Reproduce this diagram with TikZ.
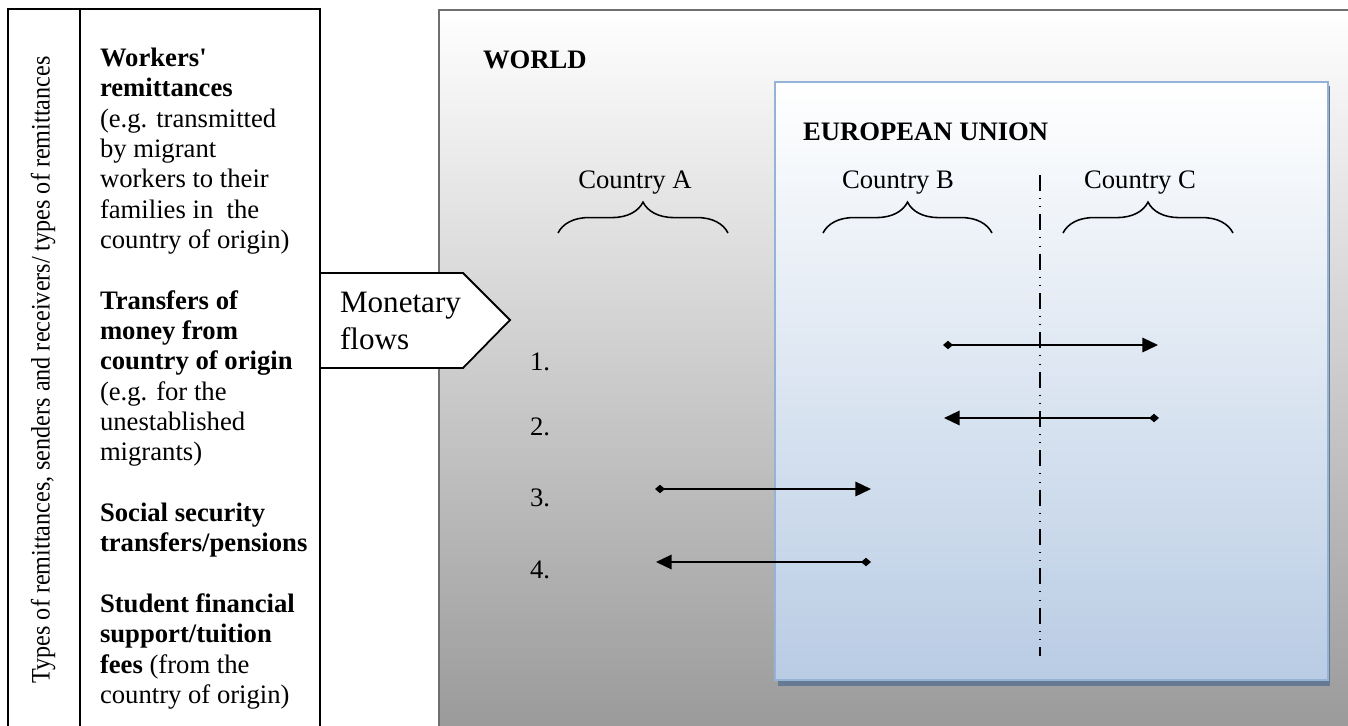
\documentclass[tikz,border=0pt]{standalone}
\usepackage{fontspec}
\setmainfont{Liberation Serif}
\usetikzlibrary{arrows.meta,decorations.pathreplacing}

\definecolor{worldline}{HTML}{6F6F6F}
\definecolor{worldlow}{HTML}{9A9A9A}
\definecolor{euline}{HTML}{95B3D7}
\definecolor{eulow}{HTML}{B9CCE4}
\definecolor{eushade}{HTML}{667A94}

\tikzset{every node/.style={inner sep=0pt, outer sep=0pt}}
\tikzset{lbl/.style={font=\fontsize{12}{13.65}\selectfont}}
\tikzset{head/.style={font=\fontsize{12}{13.65}\selectfont\bfseries}}
\tikzset{flow/.style={draw=black, line width=0.75pt,
  {Diamond[length=4.5pt,width=3.8pt]}-{Triangle[length=7pt,width=6.5pt]}}}
\tikzset{bracetop/.style={draw=black, line width=0.7pt, decorate,
  decoration={brace, amplitude=13.9pt}}}
\tikzset{divider/.style={draw=black, line width=0.65pt,
  dash pattern=on 7.2pt off 3.2pt on 0.45pt off 3.2pt on 0.45pt off 3.2pt}}

\begin{document}
\begin{tikzpicture}[x=0.45pt, y=-0.45pt]
  \useasboundingbox (0,0) rectangle (1348,725);

  % world and EU boxes
  \draw[draw=worldline, line width=1.1pt, top color=white, bottom color=worldlow]
    (439,10) rectangle (1352,729);
  \fill[eushade] (778,86) rectangle (1330,686);
  \draw[draw=euline, line width=0.9pt, top color=white, bottom color=eulow]
    (775,82) rectangle (1328,680);

  \node (world) [head, anchor=base west] at (483,68) {WORLD};
  \node (eu) [head, anchor=base west] at (803,140) {EUROPEAN UNION};

  % left column
  \draw[line width=0.8pt] (8,727) -- (8,9) -- (320,9) -- (320,727);
  \draw[line width=0.8pt] (80,9) -- (80,727);
  \node (axis) [lbl, rotate=90] at (43,370)
    {\scalebox{0.906}[1]{Types of remittances, senders and receivers/ types of remittances}};
  \node (types) [lbl, align=left, anchor=north west] at (100,48)
    {\textbf{Workers\textquotesingle}\\
     \textbf{remittances}\\
     (e.g. transmitted\\
     by migrant\\
     workers to their\\
     families in\ \ the\\
     country of origin)\\[13.65pt]
     \textbf{Transfers of}\\
     \textbf{money from}\\
     \textbf{country of origin}\\
     (e.g. for the\\
     unestablished\\
     migrants)\\[13.65pt]
     \textbf{Social security}\\
     \textbf{transfers/pensions}\\[13.65pt]
     \textbf{Student financial}\\
     \textbf{support/tuition}\\
     \textbf{fees} (from the\\
     country of origin)};

  % monetary flows
  \draw[line width=0.8pt, fill=white]
    (320,273) -- (463,273) -- (510,320) -- (463,368) -- (320,368) -- cycle;
  \node (money) [align=left, anchor=north west, font=\fontsize{14}{16.65}\selectfont]
    at (340,292) {Monetary\\flows};

  % countries
  \node (ctyA) [lbl, anchor=base] at (635,188) {Country A};
  \node (ctyB) [lbl, anchor=base] at (898,188) {Country B};
  \node (ctyC) [lbl, anchor=base] at (1140,188) {Country C};
  \draw[bracetop] (558,233) -- (728,233);
  \draw[bracetop] (823,233) -- (992,233);
  \draw[bracetop] (1063,233) -- (1233,233);

  \coordinate (divtop) at (1040,175);
  \coordinate (divbot) at (1040,656);
  \path (divtop) edge[divider] (divbot);

  % flows
  \node (n1) [lbl, anchor=west] at (530,362) {1.};
  \node (n2) [lbl, anchor=west] at (530,427) {2.};
  \node (n3) [lbl, anchor=west] at (530,498) {3.};
  \node (n4) [lbl, anchor=west] at (530,570) {4.};

  \coordinate (a1s) at (943,345);
  \coordinate (a1e) at (1158,345);
  \coordinate (a2s) at (1159,418);
  \coordinate (a2e) at (944,418);
  \coordinate (a3s) at (655,489);
  \coordinate (a3e) at (871,489);
  \coordinate (a4s) at (871,562);
  \coordinate (a4e) at (656,562);

  \path (a1s) edge[flow] (a1e);
  \path (a2s) edge[flow] (a2e);
  \path (a3s) edge[flow] (a3e);
  \path (a4s) edge[flow] (a4e);
\end{tikzpicture}
\end{document}
